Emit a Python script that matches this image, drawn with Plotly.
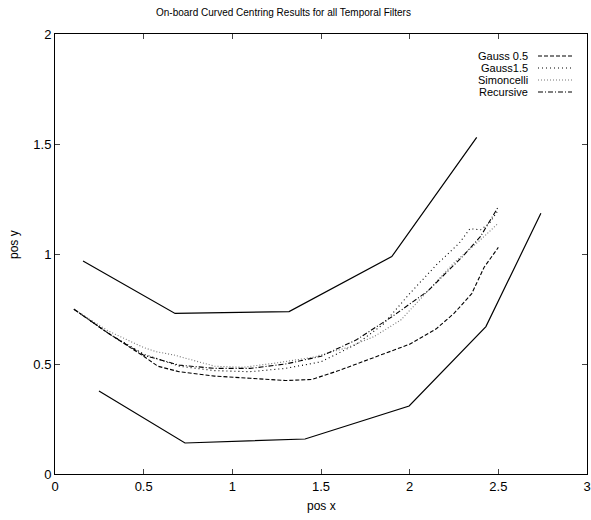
import plotly.graph_objects as go

# ---- data ----
upper_x = [0.158, 0.677, 1.32, 1.899, 2.378]
upper_y = [0.968, 0.730, 0.738, 0.988, 1.530]
lower_x = [0.248, 0.733, 1.41, 1.997, 2.43, 2.74]
lower_y = [0.377, 0.141, 0.159, 0.309, 0.670, 1.185]

g05_x = [0.107, 0.3, 0.5, 0.58, 0.7, 0.9, 1.1, 1.3, 1.45, 1.6, 1.8, 2.0, 2.15, 2.25, 2.35, 2.42, 2.5]
g05_y = [0.749, 0.64, 0.535, 0.49, 0.465, 0.445, 0.435, 0.425, 0.43, 0.47, 0.53, 0.59, 0.66, 0.73, 0.82, 0.94, 1.03]

g15_x = [0.107, 0.3, 0.5, 0.7, 0.9, 1.1, 1.3, 1.5, 1.7, 1.85, 2.0, 2.15, 2.28, 2.34, 2.4, 2.45, 2.5]
g15_y = [0.749, 0.64, 0.545, 0.49, 0.47, 0.465, 0.48, 0.51, 0.59, 0.68, 0.82, 0.95, 1.05, 1.115, 1.11, 1.14, 1.2]

sim_x = [0.107, 0.3, 0.5, 0.57, 0.67, 0.78, 0.9, 1.06, 1.25, 1.45, 1.65, 1.8, 1.95, 2.1, 2.25, 2.4, 2.5]
sim_y = [0.749, 0.65, 0.575, 0.556, 0.541, 0.518, 0.49, 0.485, 0.505, 0.53, 0.575, 0.625, 0.70, 0.83, 0.96, 1.065, 1.14]

rec_x = [0.107, 0.3, 0.5, 0.7, 0.9, 1.1, 1.3, 1.5, 1.7, 1.9, 2.1, 2.3, 2.4, 2.5]
rec_y = [0.749, 0.64, 0.54, 0.495, 0.48, 0.48, 0.50, 0.535, 0.61, 0.715, 0.83, 0.99, 1.08, 1.215]

series_names = ["Gauss 0.5", "Gauss1.5", "Simoncelli", "Recursive"]
series_dash = ["4px,2px", "1px,3px", "1px,2px", "5px,2px,1px,2px"]
series_color = ["black", "black", "#777777", "black"]

x_ticks = [0, 0.5, 1, 1.5, 2, 2.5, 3]
y_ticks = [0, 0.5, 1, 1.5, 2]

FONT = "Liberation Sans, Arial, sans-serif"

fig = go.Figure()
fig.add_trace(go.Scatter(x=upper_x, y=upper_y, mode="lines", line=dict(color="black", width=1.2), showlegend=False))
fig.add_trace(go.Scatter(x=lower_x, y=lower_y, mode="lines", line=dict(color="black", width=1.2), showlegend=False))

for (xs, ys), name, dash, col in zip([(g05_x, g05_y), (g15_x, g15_y), (sim_x, sim_y), (rec_x, rec_y)],
                                     series_names, series_dash, series_color):
    fig.add_trace(go.Scatter(x=xs, y=ys, mode="lines", name=name,
                             line=dict(color=col, width=1.1, dash=dash), showlegend=False))

# layout geometry (page pixels; body margin removed below)
W, H = 591, 520
PL, PR, PT, PB = 55, 587, 34, 474          # plot area
def px(x): return (x - PL) / (PR - PL)
def py(y): return 1 - (y - PT) / (PB - PT)

# gnuplot-style legend (text right-aligned, sample to the right)
rows = [56, 68, 80, 92]
shapes = []
annotations = []
for r, name, dash, col in zip(rows, series_names, series_dash, series_color):
    annotations.append(dict(x=px(530), y=py(r), xref="paper", yref="paper", text=name,
                            showarrow=False, xanchor="right", yanchor="middle",
                            font=dict(family=FONT, size=11, color="black")))
    shapes.append(dict(type="line", xref="paper", yref="paper", x0=px(538), x1=px(572),
                       y0=py(r), y1=py(r), line=dict(color=col, width=1.1, dash=dash)))

annotations.append(dict(x=px(283), y=py(13), xref="paper", yref="paper",
                        text="On-board Curved Centring Results for all Temporal Filters",
                        showarrow=False, xanchor="center", yanchor="middle",
                        font=dict(family=FONT, size=10, color="black")))
annotations.append(dict(x=px(321), y=py(506), xref="paper", yref="paper", text="pos x",
                        showarrow=False, xanchor="center", yanchor="middle",
                        font=dict(family=FONT, size=12, color="black")))
annotations.append(dict(x=px(14), y=py(245), xref="paper", yref="paper", text="pos y",
                        showarrow=False, xanchor="center", yanchor="middle", textangle=-90,
                        font=dict(family=FONT, size=12, color="black")))

fig.update_layout(
    width=W, height=H,
    margin=dict(l=PL, r=W - PR, t=PT, b=H - PB),
    plot_bgcolor="white", paper_bgcolor="white",
    font=dict(family=FONT, size=13, color="black"),
    shapes=shapes, annotations=annotations,
    showlegend=False,
    xaxis=dict(range=[0, 3], tickvals=x_ticks, ticks="inside", ticklen=5, automargin=False,
               showline=True, linecolor="black", linewidth=1, mirror="ticks", showgrid=False,
               zeroline=False, tickfont=dict(size=13), ticklabeloverflow="allow"),
    yaxis=dict(range=[0, 2], tickvals=y_ticks, ticks="inside", ticklen=5, automargin=False,
               showline=True, linecolor="black", linewidth=1, mirror="ticks", showgrid=False,
               zeroline=False, tickfont=dict(size=13)),
)

fig.write_html("out.html",
               config={"displayModeBar": False},
               post_script="document.body.style.margin='0';document.body.style.overflow='hidden';")
